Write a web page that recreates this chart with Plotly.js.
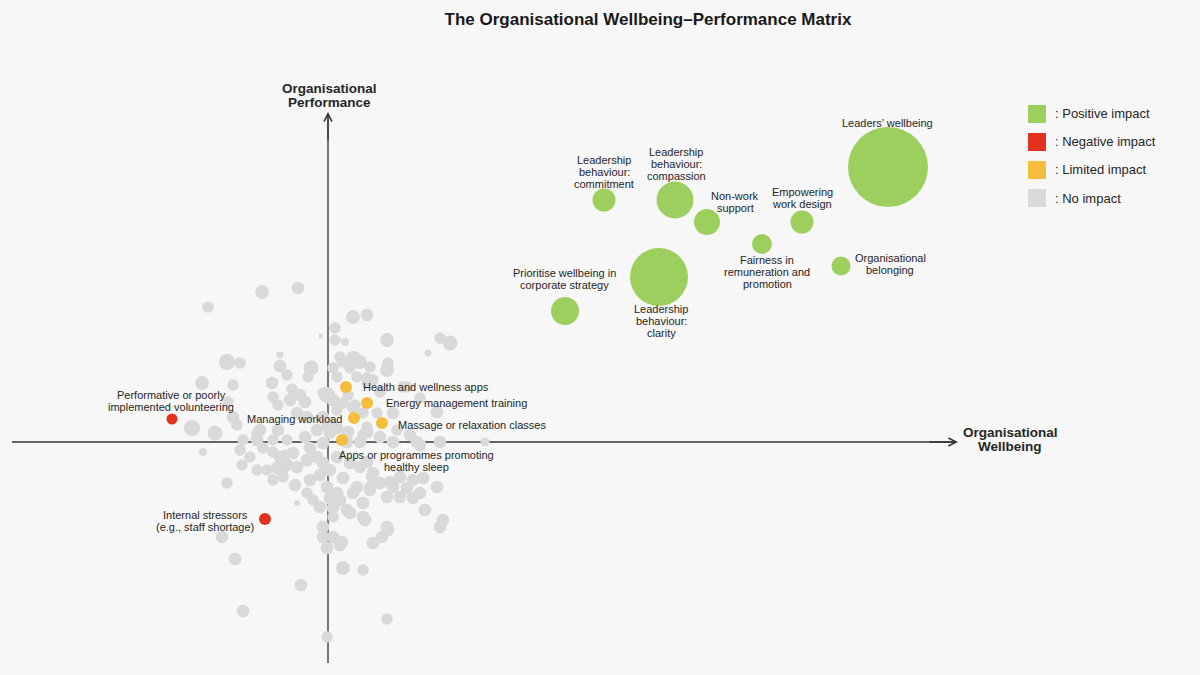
<!DOCTYPE html>
<html>
<head>
<meta charset="utf-8">
<script src="https://cdn.plot.ly/plotly-3.0.1.min.js"></script>
<style>html,body{margin:0;padding:0;background:#f7f7f7;}#chart{width:1200px;height:675px;}</style>
</head>
<body>
<div id="chart"></div>
<script>
// ---------- DATA (wellbeing score x, performance score y, bubble magnitude) ----------
var positiveNames = ["Leaders’ wellbeing", "Leadership behaviour: commitment", "Leadership behaviour: compassion",
  "Non-work support", "Empowering work design", "Fairness in remuneration and promotion",
  "Organisational belonging", "Leadership behaviour: clarity", "Prioritise wellbeing in corporate strategy"];
var positiveX = [56.0, 27.6, 34.7, 37.9, 47.4, 43.4, 51.3, 33.1, 23.7];
var positiveY = [27.5, 24.2, 24.2, 22.0, 22.0, 19.8, 17.6, 16.5, 13.1];
var positiveMag = [8.0, 2.3, 3.7, 2.6, 2.3, 2.0, 1.9, 5.8, 2.8];

var negativeNames = ["Performative or poorly implemented volunteering", "Internal stressors (e.g., staff shortage)"];
var negativeX = [-15.6, -6.3];
var negativeY = [2.3, -7.7];
var negativeMag = [1.1, 1.2];

var limitedNames = ["Health and wellness apps", "Energy management training", "Managing workload",
  "Massage or relaxation classes", "Apps or programmes promoting healthy sleep"];
var limitedX = [1.8, 3.9, 2.6, 5.4, 1.4];
var limitedY = [5.5, 3.9, 2.4, 1.9, 0.2];
var limitedMag = [1.2, 1.2, 1.2, 1.2, 1.2];

var noImpactX = [-6.6,-3.0,-12.0,0.7,2.5,3.9,-0.7,0.7,1.7,5.9,11.2,12.2,10.0,-10.1,-8.8,-4.8,-4.8,-4.1,-1.7,-2.0,
  1.4,2.5,3.2,2.2,6.0,5.9,0.9,-12.6,-9.5,-5.6,-3.6,-0.1,3.9,4.5,7.9,9.2,-2.8,-5.5,-5.0,-3.8,
  -2.3,-0.5,0.5,-10.0,-9.5,-11.3,-13.6,-3.1,-2.1,-0.5,-6.8,-5.0,-12.5,-10.1,-8.8,-7.8,-7.1,-6.1,-5.5,-4.6,
  -4.3,-5.5,-6.5,-7.1,-8.5,-9.1,-7.1,-5.5,-4.1,-3.1,-10.6,-8.6,-2.3,-1.1,0.0,-0.5,-1.8,-3.5,-4.8,-5.1,
  -4.1,-3.1,-2.1,-1.1,-4.5,-3.3,-1.8,-0.8,-2.1,-1.5,0.2,1.5,-0.1,0.9,2.5,-0.8,0.5,1.9,3.5,4.2,
  5.2,4.4,3.2,3.9,5.9,6.5,7.2,8.5,9.2,10.9,9.7,11.5,3.7,1.9,3.2,3.9,5.2,6.5,8.9,11.2,
  15.7,10.9,6.5,2.5,0.9,2.0,-0.5,-0.5,0.5,0.2,8.2,9.2,-0.5,0.9,2.2,4.5,6.2,7.9,9.5,2.9,
  4.2,7.2,8.5,0.2,1.2,2.2,3.5,11.2,5.9,5.4,4.5,0.5,1.2,-0.1,1.4,6.0,1.5,3.5,-2.7,-8.5,
  5.9,-0.1,-9.3,1.2,2.7,2.0,0.5,4.2,5.2,7.5,2.7,3.5,4.9,3.9,6.9,3.5,1.5,0.9,0.2,2.9,3.9];
var noImpactY = [15.0,15.4,13.5,11.4,12.5,12.7,10.6,10.2,10.0,10.2,10.4,9.9,8.9,8.0,7.9,8.7,7.6,6.7,7.4,6.5,
  8.0,8.4,8.0,7.4,7.9,7.2,6.5,5.9,5.7,5.9,5.3,4.7,5.9,6.2,5.5,4.4,4.7,4.5,3.7,4.2,
  4.0,4.9,4.2,4.0,2.5,0.9,1.4,2.9,2.5,2.5,1.2,1.2,-1.0,-4.1,-0.8,-1.5,-2.8,-2.8,-3.8,-3.0,
  -1.3,-1.0,-0.6,0.2,0.2,1.7,0.9,0.2,0.2,-6.1,-9.5,-2.3,0.5,1.2,1.7,-0.1,-0.6,-1.1,-1.5,-2.6,
  -2.3,-2.5,-1.8,-1.5,-3.5,-4.3,-3.8,-3.3,-5.1,-5.8,-2.8,-3.6,-4.5,-5.1,-5.1,-6.5,-6.6,-6.8,-6.1,-4.6,
  -4.1,-3.5,-2.5,-2.0,-5.5,-4.5,-3.5,-3.8,-5.1,-4.5,-6.8,-7.8,-7.8,0.0,0.0,1.0,0.5,0.0,0.0,0.0,
  0.0,3.0,2.9,3.5,1.4,1.0,-8.5,-9.5,-7.5,0.9,0.7,-0.3,-2.1,-1.5,-2.1,-3.1,-4.0,-4.6,-3.6,-4.5,
  -4.8,-5.5,-5.6,-5.6,-5.8,-7.1,-7.5,-8.5,-8.5,-9.5,-10.1,-9.5,-10.3,-10.6,-10.0,-8.8,-12.6,-12.8,-14.3,-16.9,
  -17.7,-19.5,-11.7,8.5,8.5,4.7,7.4,7.5,5.0,5.5,3.7,2.9,2.9,1.5,1.2,0.7,3.9,3.2,1.9,6.5,6.4];
var noImpactMag = [1.2,1.1,1.0,1.0,1.2,1.1,0.4,1.0,0.7,1.2,1.0,1.3,0.6,1.4,1.0,0.6,1.1,1.0,1.3,1.0,
  1.0,1.2,1.2,1.0,1.0,1.2,1.0,1.2,1.0,1.1,1.0,1.4,1.0,1.0,1.0,1.0,1.1,1.0,1.0,1.1,
  1.1,1.0,1.1,1.0,1.1,1.3,1.4,1.1,1.1,1.1,1.1,1.1,0.7,1.0,1.0,1.0,1.0,1.0,1.0,1.0,
  1.0,1.0,1.0,1.1,1.0,1.0,1.0,1.0,1.0,0.5,1.1,1.0,1.1,1.1,1.1,1.1,1.1,1.1,1.1,1.1,
  1.1,1.1,1.1,1.1,1.0,1.1,1.1,1.1,1.0,1.0,1.1,1.1,1.1,1.1,1.1,1.1,1.1,1.1,1.1,1.1,
  1.1,1.1,1.1,1.1,1.1,1.1,1.1,1.1,1.1,1.1,1.1,1.1,1.1,1.1,1.1,1.1,1.1,1.1,1.1,1.1,
  0.8,1.1,1.1,1.1,1.1,1.1,1.1,1.1,1.0,1.1,1.1,1.1,1.1,1.1,1.1,1.1,1.1,1.1,1.1,1.1,
  1.1,1.1,1.1,1.1,1.1,1.1,1.1,1.1,1.1,1.1,1.1,1.1,1.1,1.1,1.1,1.1,1.2,1.0,1.1,1.1,
  1.0,1.0,1.1,1.0,1.0,1.0,1.0,1.0,1.0,1.0,1.0,1.0,1.0,1.0,1.0,1.0,1.0,1.0,1.0,1.0,1.0];

var legendLabels = [": Positive impact", ": Negative impact", ": Limited impact", ": No impact"];
var chartTitle = "The Organisational Wellbeing–Performance Matrix";
var xTitleLines = ["Organisational", "Wellbeing"];
var yTitleLines = ["Organisational", "Performance"];

// ---------- STYLE ----------
var FONT = "Liberation Sans, Arial, Helvetica, sans-serif";
var GREEN = "#9dcf5e", RED = "#e2321f", YELLOW = "#f4bd3c", GREY = "#d9d9d9";
var TXT = "#262626";
var SIZEREF = 0.1;        // 1 unit of magnitude = 10 px diameter
var GREY_SIZEREF = 0.087; // grey dots drawn slightly larger

function bubbles(name, xs, ys, mags, color, sref) {
  return {type: "scatter", mode: "markers", name: name, x: xs, y: ys, hoverinfo: "skip",
    marker: {size: mags, sizemode: "diameter", sizeref: sref || SIZEREF, color: color, line: {width: 0}, opacity: 1},
    showlegend: false};
}

var traces = [
  bubbles("No impact", noImpactX, noImpactY, noImpactMag, GREY, GREY_SIZEREF),
  bubbles("Limited impact", limitedX, limitedY, limitedMag, YELLOW),
  bubbles("Negative impact", negativeX, negativeY, negativeMag, RED),
  bubbles("Positive impact", positiveX, positiveY, positiveMag, GREEN)
];

var annotations = [];
var LINE_H = 12;
function label(x, y, lines, dx, dy, anchor, size, bold, gap) {
  var n = lines.length, g = gap || LINE_H;
  lines.forEach(function (ln, i) {
    annotations.push({x: x, y: y, xref: "x", yref: "y", showarrow: false,
      text: bold ? "<b>" + ln + "</b>" : ln, xanchor: anchor || "center", yanchor: "middle",
      xshift: dx, yshift: dy + ((n - 1) / 2 - i) * g,
      font: {family: FONT, size: size || 11, color: TXT}});
  });
}

// Positive labels
var posLabelLines = [["Leaders’ wellbeing"], ["Leadership", "behaviour:", "commitment"], ["Leadership", "behaviour:", "compassion"],
  ["Non-work", "support"], ["Empowering", "work design"], ["Fairness in", "remuneration and", "promotion"],
  ["Organisational", "belonging"], ["Leadership", "behaviour:", "clarity"], ["Prioritise wellbeing in", "corporate strategy"]];
var posOff = [[-1, 44], [0, 28], [1, 36], [28, 20], [0, 24], [5, -28], [49, 2], [2, -44], [-1, 32]];
posLabelLines.forEach(function (ls, i) { label(positiveX[i], positiveY[i], ls, posOff[i][0], posOff[i][1], "center"); });

// Negative labels
label(negativeX[0], negativeY[0], ["Performative or poorly", "implemented volunteering"], -1, 18, "center");
label(negativeX[1], negativeY[1], ["Internal stressors", "(e.g., staff shortage)"], -60, -2, "center");

// Limited labels
label(limitedX[0], limitedY[0], ["Health and wellness apps"], 15, 0, "left");
label(limitedX[1], limitedY[1], ["Energy management training"], 17, 0, "left");
label(limitedX[2], limitedY[2], ["Managing workload"], -10, -1, "right");
label(limitedX[3], limitedY[3], ["Massage or relaxation classes"], 14, -2, "left");
label(limitedX[4], limitedY[4], ["Apps or programmes promoting", "healthy sleep"], 74, -21, "center");

// Axis titles
label(0.1, 34.7, yTitleLines, 0, 0, "center", 13.5, true, 14);
label(68.2, 0.3, xTitleLines, 0, 0, "center", 13.5, true, 14);

// Axis arrowheads
annotations.push({x: 63.0, y: 0, ax: 60.0, ay: 0, xref: "x", yref: "y", axref: "x", ayref: "y", text: "",
  showarrow: true, arrowhead: 5, arrowsize: 1.2, arrowwidth: 1.3, arrowcolor: "#333"});
annotations.push({x: 0, y: 33.0, ax: 0, ay: 30.0, xref: "x", yref: "y", axref: "x", ayref: "y", text: "",
  showarrow: true, arrowhead: 5, arrowsize: 1.2, arrowwidth: 1.3, arrowcolor: "#333"});

// Manual legend (paper coords computed from pixel layout)
var W = 1200, H = 675;
var legColors = [GREEN, RED, YELLOW, GREY];
var shapes = [
  {type: "line", xref: "x", yref: "y", x0: -31.6, x1: 62.6, y0: 0, y1: 0, layer: "below", line: {color: "#333", width: 1.3}},
  {type: "line", xref: "x", yref: "y", x0: 0, x1: 0, y0: -22.1, y1: 32.6, layer: "below", line: {color: "#333", width: 1.3}}
];
legendLabels.forEach(function (t, i) {
  var cy = 114 + i * 28;
  shapes.push({type: "rect", xref: "paper", yref: "paper", x0: 1028 / W, x1: 1046 / W,
    y0: 1 - (cy + 9) / H, y1: 1 - (cy - 9) / H, fillcolor: legColors[i], line: {width: 0}});
  annotations.push({xref: "paper", yref: "paper", x: 1053 / W, y: 1 - cy / H, xanchor: "left", yanchor: "middle",
    showarrow: false, text: t, font: {family: FONT, size: 13, color: TXT}});
});

var layout = {
  width: W, height: H,
  margin: {l: 0, r: 0, t: 0, b: 0, pad: 0},
  paper_bgcolor: "#f7f7f7", plot_bgcolor: "#f7f7f7",
  title: {text: "<b>" + chartTitle + "</b>", x: 648 / W, xanchor: "center", xref: "paper",
    y: 1 - 19 / H, yanchor: "middle", yref: "container", font: {family: FONT, size: 17, color: "#1a1a1a"}},
  xaxis: {range: [-32.8, 87.2], visible: false, fixedrange: true},
  yaxis: {range: [-23.3, 44.2], visible: false, fixedrange: true},
  showlegend: false, hovermode: false,
  shapes: shapes, annotations: annotations
};

Plotly.newPlot("chart", traces, layout, {staticPlot: true, displayModeBar: false});
</script>
</body>
</html>
